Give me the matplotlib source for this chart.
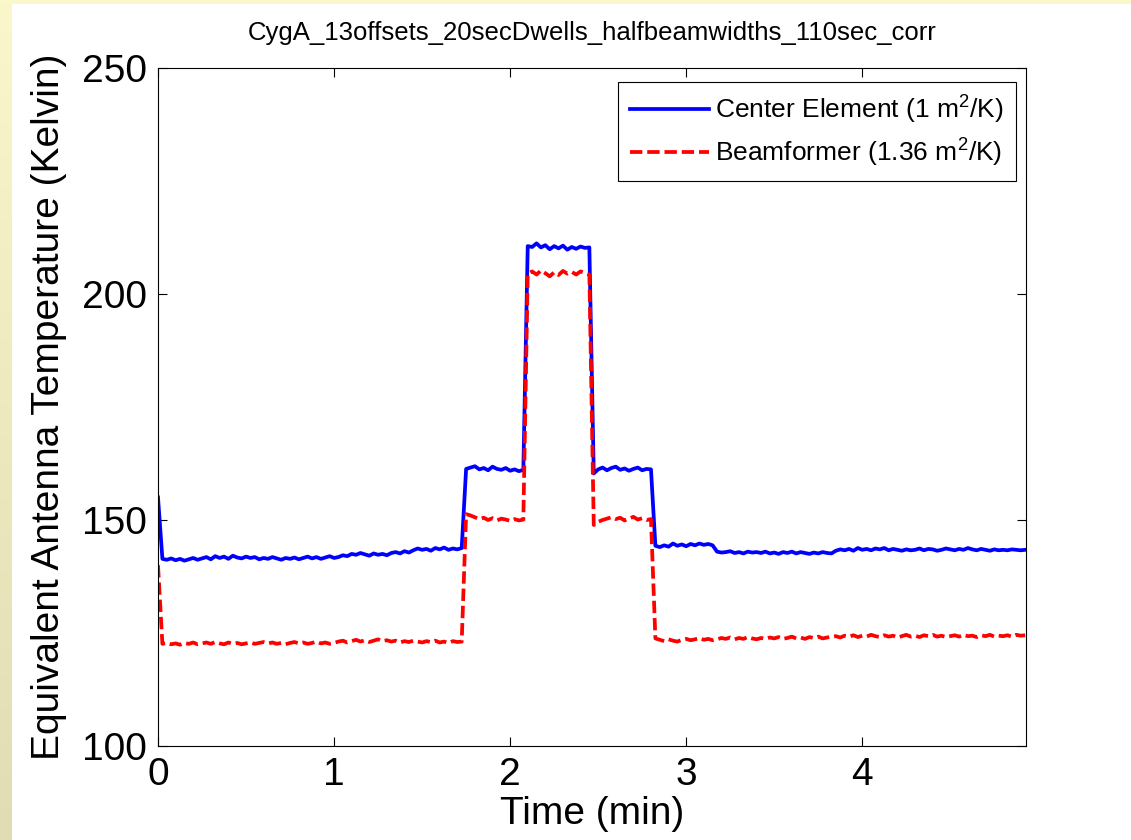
import numpy as np
import matplotlib
matplotlib.use('Agg')
import matplotlib.pyplot as plt
from matplotlib.patches import Rectangle

plt.rcParams['font.family'] = ['Liberation Sans', 'DejaVu Sans']
plt.rcParams['mathtext.default'] = 'regular'

# sample spacing of the scan (minutes)
dt = 0.025

# Center element, one value every dt minutes starting at t = 0
center = [
    155.0,
    141.4, 141.2, 141.5, 141.1, 141.4, 141.0, 141.3, 141.6, 141.2, 141.5,
    141.8, 141.3, 142.0, 141.6, 141.9, 141.4, 142.1, 141.7, 141.5, 141.9,
    141.6, 141.8, 141.3, 141.6, 141.4, 141.8, 141.5, 141.2, 141.6, 141.4,
    141.7, 141.3, 141.6, 141.9, 141.5, 141.8, 141.4, 141.7, 142.0, 141.6,
    141.8, 142.2, 142.0, 142.5, 142.3, 142.7, 142.4, 142.1, 142.6, 142.3,
    142.5, 142.2, 142.7, 142.9, 142.6, 143.1, 142.8, 143.3, 143.7, 143.4,
    143.6, 143.2, 143.8, 143.5, 143.9, 143.4, 143.7, 143.5, 143.8,
    161.3,
    161.6, 161.9, 161.2, 161.5, 161.0, 161.8, 161.3, 161.1, 161.5, 160.9,
    161.2, 160.8, 161.1,
    210.6,
    210.4, 211.2, 210.3, 210.8, 209.9, 210.6, 210.1, 210.7, 209.8, 210.4,
    210.0, 210.5, 210.2,
    210.3,
    160.3, 161.2, 161.6, 161.0, 161.5, 161.8, 161.1, 161.4, 160.9, 161.3,
    161.6, 161.0, 161.3,
    161.2,
    144.3, 144.0, 144.4, 144.1, 144.8, 144.3, 144.6, 144.2, 144.7, 144.4,
    144.8, 144.5, 144.7, 144.4,
    143.0, 142.8, 142.9, 143.1, 142.7, 142.9, 142.6, 143.0, 142.8, 142.9,
    142.7, 143.0, 142.6, 142.8, 142.5, 142.9, 142.7, 143.0, 142.6, 142.9,
    142.7, 142.5, 142.8, 142.6, 142.9, 142.7, 142.6,
    143.2, 143.5, 143.3, 143.6, 143.2, 143.8, 143.4, 143.6, 143.3, 143.7,
    143.5, 143.8, 143.3, 143.6, 143.4, 143.2, 143.5, 143.3, 143.4, 143.7,
    143.3, 143.6, 143.5, 143.2, 143.4, 143.7, 143.5, 143.3, 143.6, 143.4,
    143.8, 143.5, 143.3, 143.6, 143.4, 143.2, 143.5, 143.3, 143.4, 143.3,
    143.5, 143.4, 143.3, 143.4,
]

# Beamformer, same time grid
beamformer = [
    140.0,
    122.6, 122.8, 122.5, 122.7, 122.4, 122.8, 122.6, 122.9, 122.5, 122.7,
    122.9, 122.6, 123.0, 122.7, 122.5, 122.9, 122.6, 122.8, 122.5, 122.7,
    122.9, 122.6, 122.8, 123.0, 122.7, 122.9, 122.6, 122.8, 122.5, 122.8,
    123.0, 122.7, 122.9, 122.6, 122.8, 123.1, 122.7, 122.9, 122.6, 122.8,
    123.1, 123.3, 122.9, 123.2, 123.5, 123.1, 123.4, 123.0, 123.3, 123.6,
    123.2, 123.4, 123.1, 123.3, 122.9, 123.2, 123.0, 123.3, 123.1, 122.9,
    123.2, 123.0, 123.3, 122.9, 123.1, 122.8, 123.2, 123.0, 123.1,
    151.3,
    151.0, 150.6, 150.2, 150.5, 150.0, 150.4, 149.9, 150.3, 150.1, 149.8,
    150.2, 149.9, 150.1,
    204.5,
    205.0, 204.3, 205.2, 204.6, 203.9, 204.8, 204.2, 205.1, 204.5, 204.9,
    204.3, 205.0, 204.6,
    204.3,
    148.9, 149.6, 150.0, 150.3, 150.6, 150.2, 150.5, 149.9, 150.3, 150.7,
    150.1, 150.4, 150.0,
    150.2,
    123.8, 123.5, 123.2, 123.6, 123.3, 123.1, 123.5, 123.7, 123.4, 123.6,
    123.9, 123.5, 123.7, 123.4,
    123.6, 123.9, 123.7, 124.0, 123.6, 123.9, 123.7, 124.1, 123.8, 123.6,
    123.9, 123.7, 124.0, 123.8, 124.1, 123.7, 123.9, 124.2, 123.8, 124.0,
    123.7, 124.1, 123.9, 124.2, 123.8, 124.0, 124.2,
    124.3, 124.0, 124.4, 124.2, 124.5, 124.1, 124.4, 124.2, 124.6, 124.3,
    124.1, 124.5, 124.2, 124.4, 124.0, 124.3, 124.6, 124.2, 124.4, 124.1,
    124.5, 124.3, 124.6, 124.2, 124.4, 124.1, 124.3, 124.5, 124.2, 124.6,
    124.3, 124.4, 124.1, 124.5, 124.3, 124.6, 124.2, 124.4, 124.3, 124.5,
    124.2, 124.6, 124.4, 124.5,
]

x_ticks = [0, 1, 2, 3, 4]
y_ticks = [100, 150, 200, 250]

t_center = np.arange(len(center)) * dt
t_beam = np.arange(len(beamformer)) * dt

fig = plt.figure(figsize=(11.31, 8.40), dpi=100, facecolor='white')

# slide background: yellow strip on the left and along the top
strip = fig.add_axes([0, 0, 12 / 1131, 1])
grad = np.linspace(0, 1, 256).reshape(-1, 1)
top_col = np.array([250, 247, 202]) / 255
bot_col = np.array([224, 220, 180]) / 255
img = top_col[None, None, :] * (1 - grad[:, :, None]) + bot_col[None, None, :] * grad[:, :, None]
strip.imshow(img, aspect='auto', extent=[0, 1, 0, 1])
strip.axis('off')
fig.patches.append(Rectangle((0, 1 - 4 / 840), 1, 4 / 840, transform=fig.transFigure,
                             facecolor=top_col, edgecolor='none', zorder=0))

ax = fig.add_axes([158 / 1131, 1 - 746 / 840, 868 / 1131, 678 / 840])
ax.plot(t_center, center, color='#0000ff', lw=2.7, label='Center Element (1 m$^{2}$/K)')
ax.plot(t_beam, beamformer, color='#ff0000', lw=2.7, dashes=(3.3, 1.3),
        label='Beamformer (1.36 m$^{2}$/K)')

ax.set_xlim(0, 4.93)
ax.set_ylim(100, 250)
ax.set_xticks(x_ticks)
ax.set_yticks(y_ticks)
ax.tick_params(direction='in', length=6.5, width=0.8, top=True, right=True,
               labelsize=28, pad=8)
for s in ax.spines.values():
    s.set_linewidth(0.8)

ax.set_title('CygA_13offsets_20secDwells_halfbeamwidths_110sec_corr', fontsize=18.5, pad=20)
ax.set_xlabel('Time (min)', fontsize=28, labelpad=2)
ax.set_ylabel('Equivalent Antenna Temperature (Kelvin)', fontsize=28, labelpad=11)

leg = ax.legend(loc='upper right', fontsize=19, handlelength=3.0, handletextpad=0.25,
                fancybox=False, framealpha=1, edgecolor='black', borderpad=0.45,
                labelspacing=0.4, borderaxespad=0,
                bbox_to_anchor=(1 - 10 / 868, 1 - 14 / 678))
leg.get_frame().set_linewidth(0.8)

fig.savefig('out.png', dpi=100, facecolor=fig.get_facecolor())
